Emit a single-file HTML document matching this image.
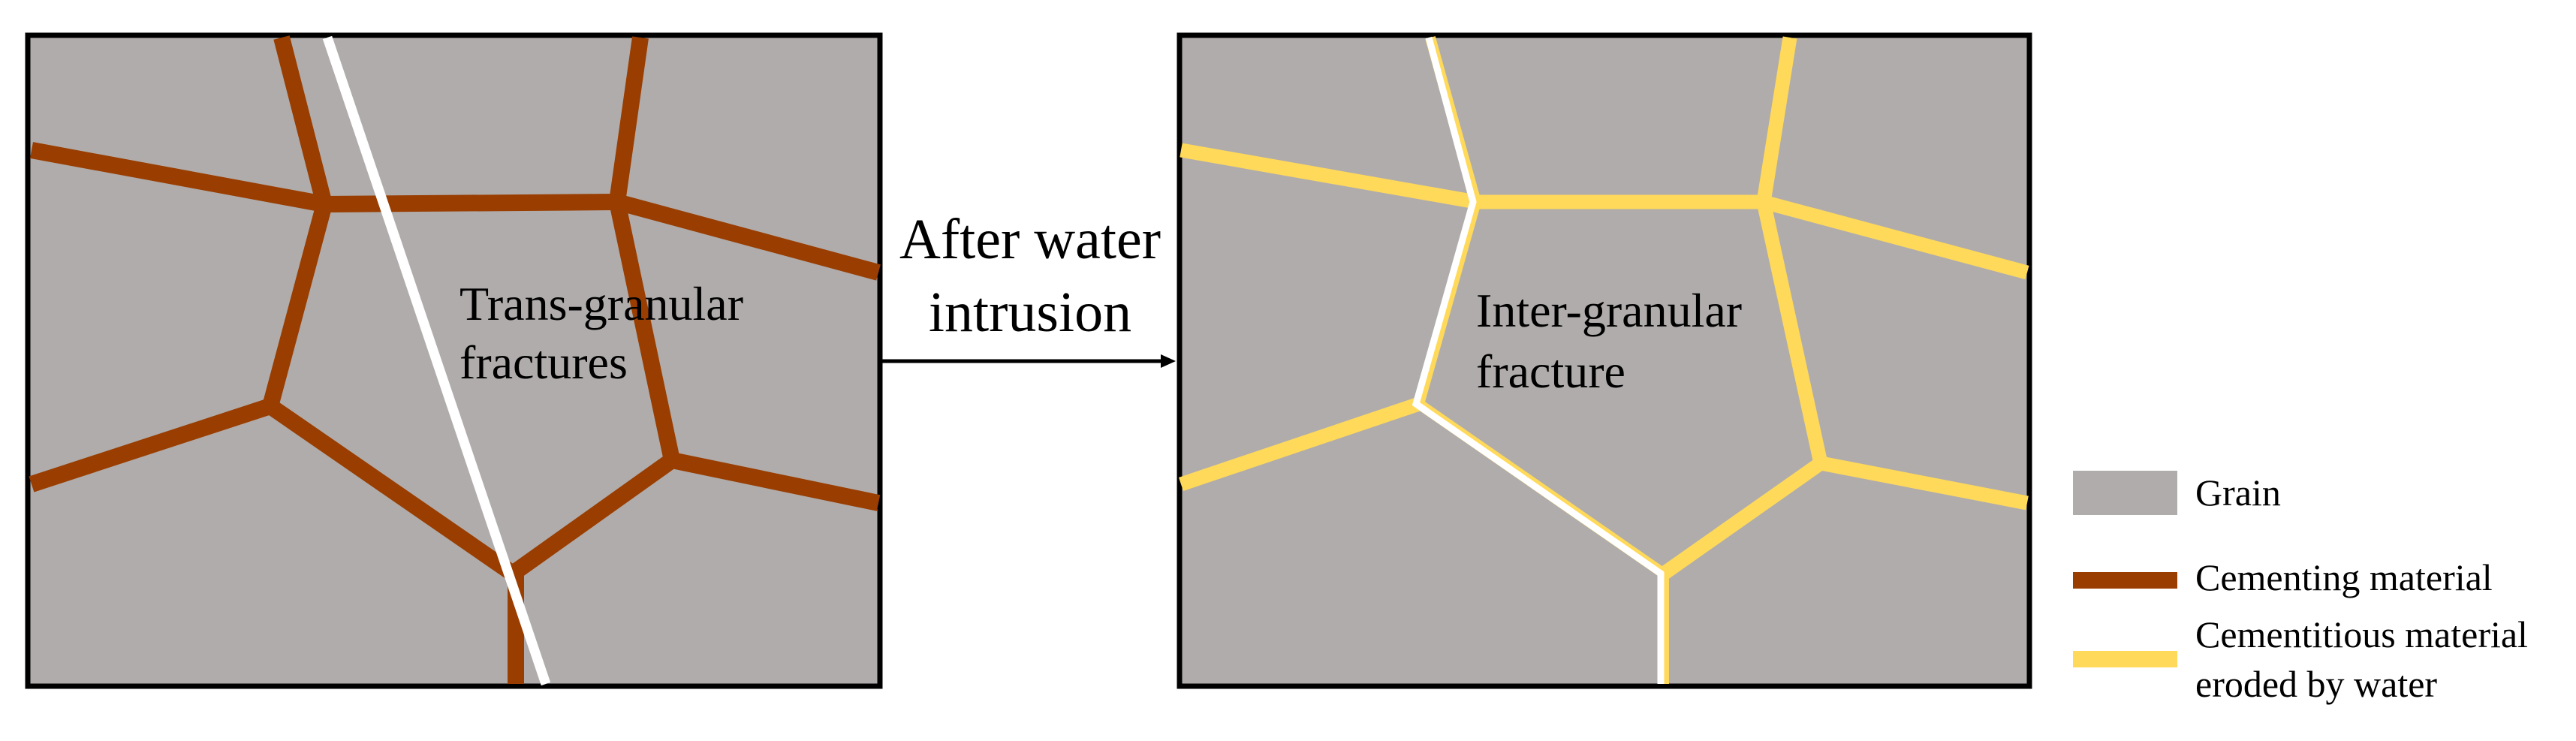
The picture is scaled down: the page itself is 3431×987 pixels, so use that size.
<!DOCTYPE html>
<html><head><meta charset="utf-8"><style>
html,body{margin:0;padding:0;background:#fff;}
text{font-family:"Liberation Serif","DejaVu Serif","Noto Serif CJK SC",serif;}
</style></head><body>
<svg width="3431" height="982" viewBox="0 0 3431 982" xmlns="http://www.w3.org/2000/svg">
<!-- Left panel -->
<rect x="37" y="47" width="1135" height="867" fill="#b0acab" stroke="#000" stroke-width="7"/>
<g stroke="#993d00" stroke-width="22" fill="none" stroke-linejoin="miter">
<polyline points="375,50 432,272 822,269 853,50"/>
<polyline points="42,200 432,272"/>
<polyline points="822,269 1170,363"/>
<polyline points="432,272 360,541 42,645"/>
<polyline points="360,541 683,764 895,613 822,269"/>
<polyline points="895,613 1170,670"/>
<polyline points="687,764 687,911"/>
</g>
<line x1="436" y1="50" x2="727" y2="911" stroke="#fff" stroke-width="13"/>
<text x="612" y="426" font-size="64">Trans-granular</text>
<text x="612" y="504" font-size="64">fractures</text>

<!-- Arrow -->
<line x1="1175" y1="481" x2="1552" y2="481" stroke="#000" stroke-width="5"/>
<polygon points="1566,481 1546,472 1546,490" fill="#000"/>
<text x="1372" y="344" font-size="76" text-anchor="middle">After water</text>
<text x="1372" y="441" font-size="76" text-anchor="middle">intrusion</text>

<!-- Right panel -->
<rect x="1571" y="47" width="1132" height="867" fill="#b0acab" stroke="#000" stroke-width="7"/>
<g stroke="#ffd95a" stroke-width="19" fill="none">
<polyline points="1966,269 2349,269 2384,50"/>
<polyline points="1573,200 1966,269"/>
<polyline points="2349,269 2700,363"/>
<polyline points="1890,538 1573,645"/>
<polyline points="2349,269 2425,617 2700,670"/>
<polyline points="2425,617 2216,764"/>
</g>
<g stroke="#ffd95a" stroke-width="14" fill="none">
<polyline points="1905,50 1966,269 1890,538 2216,764 2216,911"/>
</g>
<g stroke="#fff" stroke-width="9" fill="none">
<polyline points="1903,50 1962,269 1886,538 2212,764 2212,911"/>
</g>
<text x="1966" y="435" font-size="64">Inter-granular</text>
<text x="1966" y="516" font-size="64">fracture</text>

<!-- Legend -->
<rect x="2761" y="627" width="139" height="59" fill="#b0acab"/>
<rect x="2761" y="762" width="139" height="22" fill="#993d00"/>
<rect x="2761" y="867" width="139" height="22" fill="#ffd95a"/>
<text x="2924" y="673" font-size="50">Grain</text>
<text x="2924" y="786" font-size="50">Cementing material</text>
<text x="2924" y="862" font-size="50">Cementitious material</text>
<text x="2924" y="928" font-size="50">eroded by water</text>
</svg>
</body></html>
